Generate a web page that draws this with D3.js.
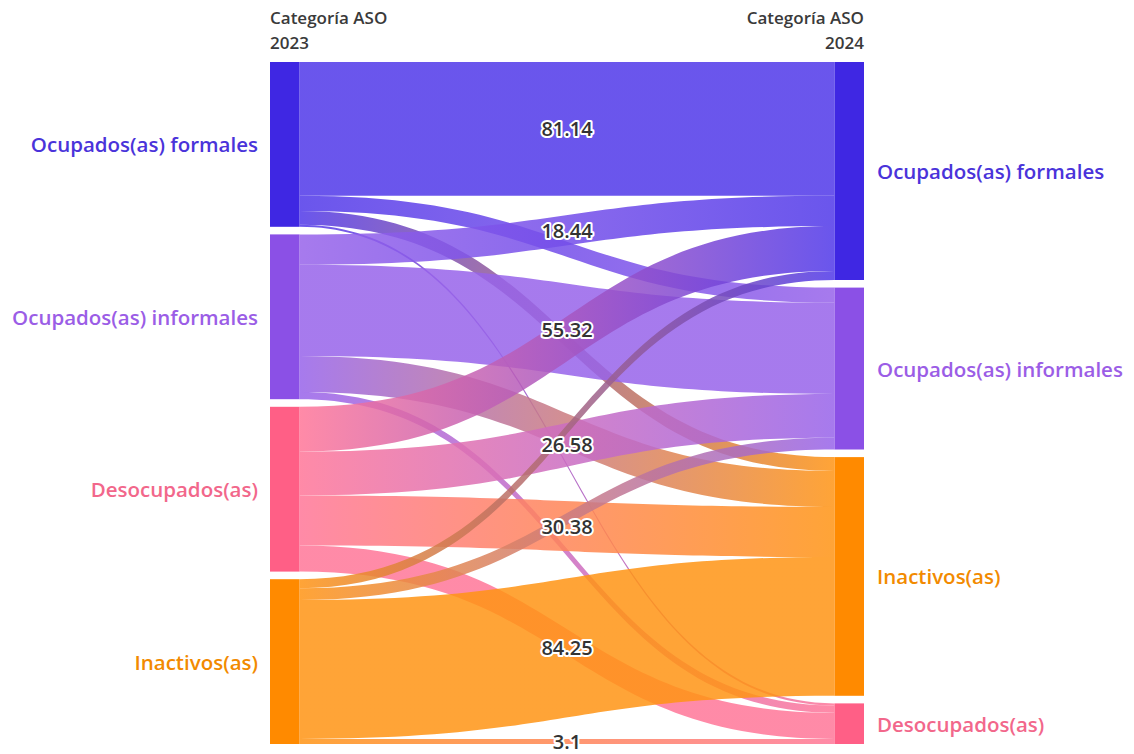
<!DOCTYPE html>
<html>
<head>
<meta charset="utf-8">
<script src="https://cdn.jsdelivr.net/npm/d3@7"></script>
<style>
  html, body { margin: 0; padding: 0; background: #ffffff; }
  svg { display: block; }
</style>
</head>
<body>
<svg id="chart" width="1134" height="754"></svg>
<script>
// ---- Data ----
const sourceCategories = ["Ocupados(as) formales", "Ocupados(as) informales", "Desocupados(as)", "Inactivos(as)"];
const targetCategories = ["Ocupados(as) formales", "Ocupados(as) informales", "Inactivos(as)", "Desocupados(as)"];
// values from each 2023 category to the 2024 categories (in targetCategories order)
const fromFormales    = [81.14, 9.2, 8.4, 1.26];
const fromInformales  = [18.44, 55.32, 21.8, 4.44];
const fromDesocupados = [27.2, 26.58, 30.38, 15.84];
const fromInactivos   = [5.5, 7.15, 84.25, 3.1];
const flowRows = [fromFormales, fromInformales, fromDesocupados, fromInactivos];
// flows that carry a visible value label: [source index, target index]
const labeledFlows = [[0,0],[1,0],[1,1],[2,1],[2,2],[3,2],[3,3]];
const headerLeft = ["Categoría ASO", "2023"];
const headerRight = ["Categoría ASO", "2024"];

// ---- Styles ----
const nodeColor  = {"Ocupados(as) formales":"#3f27e3","Ocupados(as) informales":"#8b50e6","Desocupados(as)":"#ff5f86","Inactivos(as)":"#ff8a00"};
const linkColor  = {"Ocupados(as) formales":"#5038e9","Ocupados(as) informales":"#9763ea","Desocupados(as)":"#ff7698","Inactivos(as)":"#ff9414"};
const labelColor = {"Ocupados(as) formales":"#4a33da","Ocupados(as) informales":"#9b5de6","Desocupados(as)":"#f2678b","Inactivos(as)":"#f28a00"};

const svg = d3.select("#chart");
const topY = 62, bottomY = 744, gap = 7.6, nodeW = 29.5;
const leftX = 270, rightX = 834.5;
const total = d3.sum(flowRows, r => d3.sum(r));
const h = d3.scaleLinear().domain([0, total]).range([0, (bottomY - topY) - 3 * gap]);
const xCol = d3.scaleLinear().domain([0, 1]).range([leftX, rightX]);

function layoutNodes(names, totals, col) {
  let y = topY;
  return names.map((n, i) => {
    const node = {name: n, value: totals[i], x0: xCol(col), x1: xCol(col) + nodeW, y0: y, y1: y + h(totals[i])};
    y = node.y1 + gap;
    return node;
  });
}
const srcTotals = flowRows.map(r => d3.sum(r));
const tgtTotals = targetCategories.map((t, j) => d3.sum(flowRows, r => r[j]));
const srcNodes = layoutNodes(sourceCategories, srcTotals, 0);
const tgtNodes = layoutNodes(targetCategories, tgtTotals, 1);

const links = [];
flowRows.forEach((row, i) => row.forEach((v, j) => links.push({s: i, t: j, value: v})));
srcNodes.forEach((n, i) => {
  let y = n.y0;
  links.filter(l => l.s === i).sort((a, b) => a.t - b.t).forEach(l => { l.sy0 = y; y += h(l.value); l.sy1 = y; });
});
tgtNodes.forEach((n, j) => {
  let y = n.y0;
  links.filter(l => l.t === j).sort((a, b) => a.s - b.s).forEach(l => { l.ty0 = y; y += h(l.value); l.ty1 = y; });
});

const lx0 = leftX + nodeW, lx1 = rightX, xm = (lx0 + lx1) / 2;
function ribbon(l) {
  const p = d3.path();
  p.moveTo(lx0, l.sy0);
  p.bezierCurveTo(xm, l.sy0, xm, l.ty0, lx1, l.ty0);
  p.lineTo(lx1, l.ty1);
  p.bezierCurveTo(xm, l.ty1, xm, l.sy1, lx0, l.sy1);
  p.closePath();
  return p.toString();
}

const defs = svg.append("defs");
links.forEach((l, k) => {
  const g = defs.append("linearGradient").attr("id", "g" + k)
    .attr("gradientUnits", "userSpaceOnUse").attr("x1", lx0).attr("x2", lx1).attr("y1", 0).attr("y2", 0);
  g.append("stop").attr("offset", "0%").attr("stop-color", linkColor[sourceCategories[l.s]]);
  g.append("stop").attr("offset", "100%").attr("stop-color", linkColor[targetCategories[l.t]]);
});

svg.append("g").selectAll("path").data(links).join("path")
  .attr("d", ribbon)
  .attr("fill", (d, k) => `url(#g${k})`)
  .attr("fill-opacity", 0.85);

svg.append("g").selectAll("rect").data(srcNodes.concat(tgtNodes)).join("rect")
  .attr("x", d => d.x0).attr("y", d => d.y0)
  .attr("width", d => d.x1 - d.x0).attr("height", d => d.y1 - d.y0)
  .attr("fill", d => nodeColor[d.name]);

const font = "'Open Sans', 'Noto Sans', sans-serif";
svg.append("g").selectAll("text").data(srcNodes).join("text")
  .attr("x", d => d.x0 - 12).attr("y", d => (d.y0 + d.y1) / 2)
  .attr("text-anchor", "end").attr("dominant-baseline", "central")
  .attr("font-family", font).attr("font-size", 20.5).attr("font-weight", 600)
  .attr("fill", d => labelColor[d.name]).text(d => d.name);
svg.append("g").selectAll("text").data(tgtNodes).join("text")
  .attr("x", d => d.x1 + 13).attr("y", d => (d.y0 + d.y1) / 2)
  .attr("text-anchor", "start").attr("dominant-baseline", "central")
  .attr("font-family", font).attr("font-size", 20.5).attr("font-weight", 600)
  .attr("fill", d => labelColor[d.name]).text(d => d.name);

const hdr = svg.append("g").attr("font-family", font).attr("font-size", 17).attr("font-weight", 600).attr("fill", "#3a3a3a");
headerLeft.forEach((t, i) => hdr.append("text").attr("x", leftX).attr("y", 24 + i * 25).attr("text-anchor", "start").text(t));
headerRight.forEach((t, i) => hdr.append("text").attr("x", rightX + nodeW).attr("y", 24 + i * 25).attr("text-anchor", "end").text(t));

const labeled = links.filter(l => labeledFlows.some(f => f[0] === l.s && f[1] === l.t));
svg.append("g").selectAll("text").data(labeled).join("text")
  .attr("x", xm).attr("y", d => ((d.sy0 + d.sy1) / 2 + (d.ty0 + d.ty1) / 2) / 2)
  .attr("text-anchor", "middle").attr("dominant-baseline", "central")
  .attr("font-family", font).attr("font-size", 20).attr("font-weight", 600)
  .attr("fill", "#333333").attr("stroke", "#ffffff").attr("stroke-width", 4)
  .attr("stroke-linejoin", "round").attr("paint-order", "stroke")
  .text(d => d3.format("")(d.value));
</script>
</body>
</html>
